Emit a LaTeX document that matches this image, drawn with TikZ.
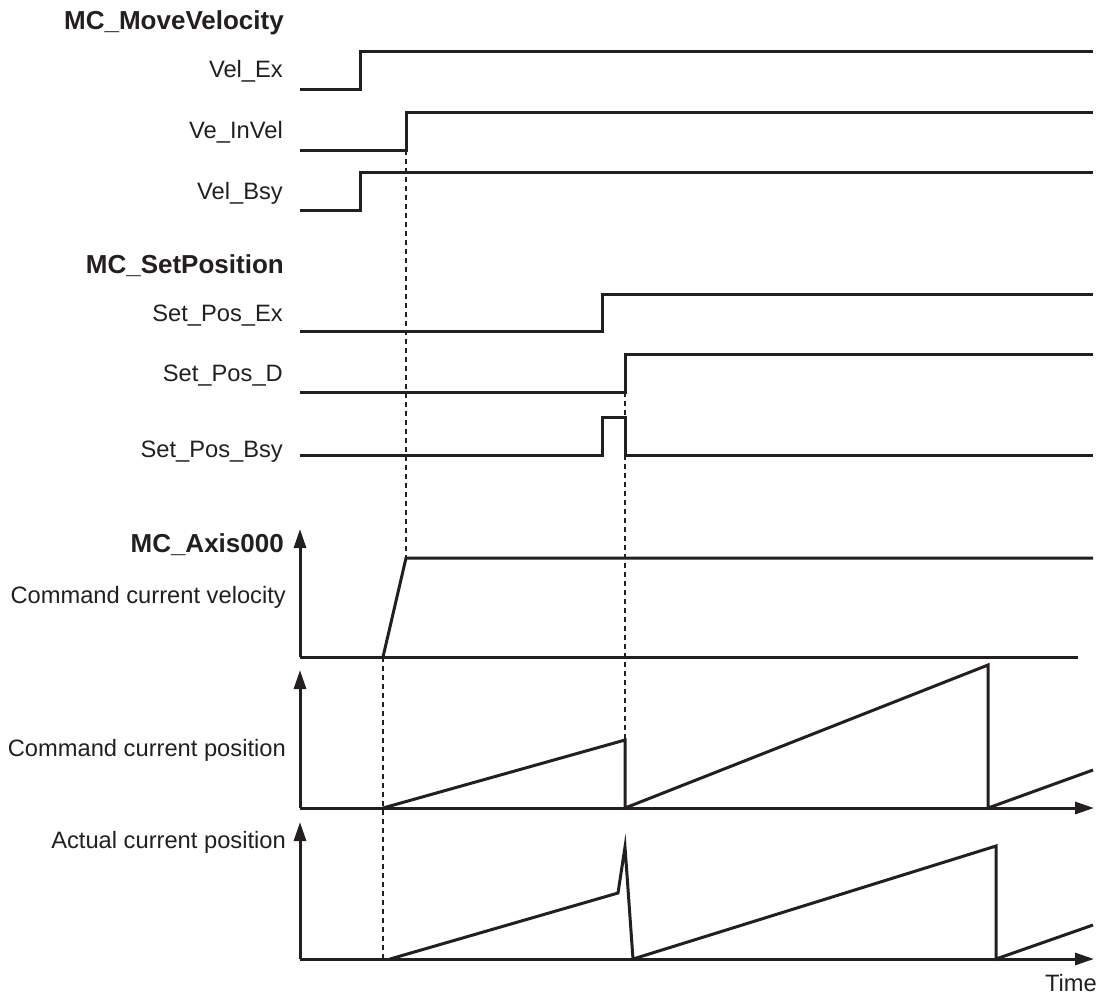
\documentclass[tikz,border=0pt]{standalone}
\usepackage{fontspec}
\setmainfont{Liberation Sans}
\usetikzlibrary{arrows.meta}
\definecolor{ink}{HTML}{231F20}
\begin{document}
\begin{tikzpicture}[x=1pt,y=-1pt,
  sig/.style={line width=3pt,line join=miter,draw=ink},
  dsh/.style={line width=1.2pt,dash pattern=on 5pt off 4pt,draw=ink},
  axarrow/.style={line width=3pt,draw=ink,-{Triangle[length=19pt,width=12pt]}},
  lbl/.style={anchor=base east,inner sep=0pt,text=ink,font=\fontsize{23.7}{28}\selectfont},
  ttl/.style={anchor=base east,inner sep=0pt,text=ink,font=\fontsize{26}{30}\selectfont\bfseries}]
\useasboundingbox (0,0) rectangle (1105,997);
% labels
\node[ttl] (tmv) at (284,29) {MC\_MoveVelocity};
\node[lbl] (lvex) at (283,77) {Vel\_Ex};
\node[lbl] (lvin) at (283,138) {Ve\_InVel};
\node[lbl] (lvbs) at (283,199) {Vel\_Bsy};
\node[ttl] (tsp) at (284,273) {MC\_SetPosition};
\node[lbl] (lspe) at (283,321) {Set\_Pos\_Ex};
\node[lbl] (lspd) at (283,381) {Set\_Pos\_D};
\node[lbl] (lspb) at (283,457) {Set\_Pos\_Bsy};
\node[ttl] (tax) at (284,552) {MC\_Axis000};
\node[lbl] (lcv) at (286,603) {Command current velocity};
\node[lbl] (lcp) at (286,756) {Command current position};
\node[lbl] (lap) at (286,848) {Actual current position};
\node[lbl] (ltm) at (1097,991) {Time};
% dashed guides
\draw[dsh] (406,150) -- (406,558);
\draw[dsh] (625,392) -- (625,740);
\draw[dsh] (383,657) -- (383,958);
% MC_MoveVelocity signals
\draw[sig] (300,89) -- (360,89) -- (360,51) -- (1093,51);
\draw[sig] (300,150) -- (406,150) -- (406,112) -- (1093,112);
\draw[sig] (300,210) -- (360,210) -- (360,172) -- (1093,172);
% MC_SetPosition signals
\draw[sig] (300,331) -- (602,331) -- (602,294) -- (1093,294);
\draw[sig] (300,392) -- (625,392) -- (625,354) -- (1093,354);
\draw[sig] (300,455) -- (602,455) -- (602,417) -- (625,417) -- (625,455) -- (1093,455);
% velocity
\draw[axarrow] (300,657) -- (300,529);
\draw[sig] (300,657) -- (1078,657);
\draw[sig] (383,657) -- (406,558) -- (1093,558);
% command position
\draw[axarrow] (300,808) -- (300,670);
\draw[axarrow] (300,808) -- (1094,808);
\draw[sig] (383,808) -- (625,740) -- (625,808) -- (988,665) -- (988,808) -- (1093,770);
% actual position
\draw[axarrow] (300,959) -- (300,822);
\draw[axarrow] (300,959) -- (1094,959);
\draw[sig] (390,959) -- (618,893) -- (625,847) -- (633,959) -- (996,846) -- (996,959) -- (1093,925);
\end{tikzpicture}
\end{document}
